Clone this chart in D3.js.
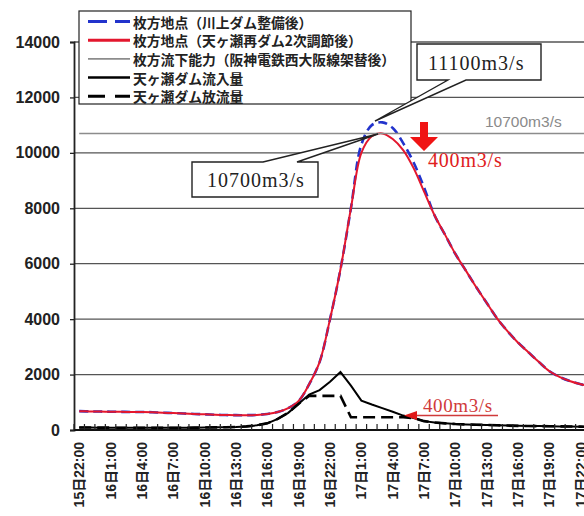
<!DOCTYPE html>
<html><head><meta charset="utf-8">
<script src="https://cdn.jsdelivr.net/npm/d3@7"></script>
<style>body{margin:0;background:#fff;overflow:hidden;} svg{display:block;}</style>
</head><body><svg id="c" width="584" height="516"></svg>
<script>
const categories = ["15日22:00","15日23:00",
 "16日0:00","16日1:00","16日2:00","16日3:00","16日4:00","16日5:00","16日6:00","16日7:00","16日8:00","16日9:00","16日10:00","16日11:00",
 "16日12:00","16日13:00","16日14:00","16日15:00","16日16:00","16日17:00","16日18:00","16日19:00","16日20:00","16日21:00","16日22:00","16日23:00",
 "17日0:00","17日1:00","17日2:00","17日3:00","17日4:00","17日5:00","17日6:00","17日7:00","17日8:00","17日9:00","17日10:00","17日11:00",
 "17日12:00","17日13:00","17日14:00","17日15:00","17日16:00","17日17:00","17日18:00","17日19:00","17日20:00","17日21:00","17日22:00","17日23:00",
 "18日0:00"];
const tickLabels = ["15日22:00","16日1:00","16日4:00","16日7:00","16日10:00","16日13:00","16日16:00","16日19:00",
 "16日22:00","17日1:00","17日4:00","17日7:00","17日10:00","17日13:00","17日16:00","17日19:00","17日22:00"];
const yTicks = [0,2000,4000,6000,8000,10000,12000,14000];

// 枚方地点(川上ダム整備後)
const hirakataKawakami = [680,670,665,660,655,650,650,640,625,610,595,
 580,565,550,540,535,535,545,580,650,790,1050,
 1650,2450,4000,5800,8000,10300,11000,11100,10900,10350,9650,
 8750,7750,7050,6350,5750,5150,4580,4020,3560,3150,2800,
 2450,2120,1910,1760,1650,1560,1480];
// 枚方地点(天ヶ瀬再ダム2次調節後)
const hirakataAmagase = [680,670,665,660,655,650,650,640,625,610,595,
 580,565,550,540,535,535,545,580,650,790,1050,
 1650,2450,4000,5800,8000,10000,10600,10700,10500,10100,9450,
 8600,7750,7050,6350,5750,5150,4580,4020,3560,3150,2800,
 2450,2120,1910,1760,1650,1560,1480];
// 枚方流下能力
const capacity = 10700;
// 天ヶ瀬ダム流入量
const damInflow = [90,90,85,85,80,80,80,80,80,80,80,
 85,90,95,100,110,130,170,240,400,620,950,
 1280,1440,1740,2090,1600,1060,920,790,660,520,430,
 320,270,240,215,200,190,180,170,160,150,145,
 140,135,130,125,120,115,110];
// 天ヶ瀬ダム放流量
const damRelease = [90,90,85,85,80,80,80,80,80,80,80,
 85,90,95,100,110,130,170,240,400,620,950,
 1230,1230,1230,1230,460,460,460,460,460,460,430,
 320,270,240,215,200,190,180,170,160,150,145,
 140,135,130,125,120,115,110];

const legendLabels = ["枚方地点（川上ダム整備後）","枚方地点（天ヶ瀬再ダム2次調節後）","枚方流下能力（阪神電鉄西大阪線架替後）","天ヶ瀬ダム流入量","天ヶ瀬ダム放流量"];

const svg = d3.select("#c");
const x0 = 74, step = 10.45;
const x = d3.scaleBand().domain(categories).range([x0, x0 + step*categories.length]).paddingInner(0).paddingOuter(0);
const y = d3.scaleLinear().domain([0,14000]).range([430,42]);
const cx = c => x(c) + x.bandwidth()/2;

// gridlines
svg.append("g").selectAll("line").data(yTicks.filter(d=>d>0)).join("line")
 .attr("x1", x0).attr("x2", 600).attr("y1", d=>y(d)).attr("y2", d=>y(d))
 .attr("stroke","#555").attr("stroke-width",1.3);

// y axis
const yAxis = svg.append("g").attr("transform",`translate(${x0},0)`)
 .call(d3.axisLeft(y).tickValues(yTicks).tickSize(4).tickPadding(10).tickFormat(d3.format("d")));
yAxis.select(".domain").attr("stroke","#222").attr("stroke-width",1.8);
yAxis.selectAll(".tick line").attr("stroke","#222").attr("stroke-width",1.3);
yAxis.selectAll("text").attr("font-family","'Liberation Sans',Arial,sans-serif").attr("font-size",16).attr("font-weight","bold").attr("fill","#222");

// series
const smooth = d3.line().x((d,i)=>cx(categories[i])).y(d=>y(d)).curve(d3.curveCatmullRom.alpha(0.5));
const straight = d3.line().x((d,i)=>cx(categories[i])).y(d=>y(d));
const g = svg.append("g");
g.append("path").attr("d", smooth(hirakataKawakami)).attr("fill","none").attr("stroke","#2233cc").attr("stroke-width",2.6).attr("stroke-dasharray","9,5");
g.append("path").attr("d", smooth(hirakataAmagase)).attr("fill","none").attr("stroke","#e3172e").attr("stroke-width",2);
g.append("line").attr("x1", cx(categories[0])).attr("x2", cx(categories[categories.length-1]))
 .attr("y1", y(capacity)).attr("y2", y(capacity)).attr("stroke","#8c8c8c").attr("stroke-width",1.6);
g.append("path").attr("d", straight(damInflow)).attr("fill","none").attr("stroke","#000").attr("stroke-width",2);
g.append("path").attr("d", straight(damRelease)).attr("fill","none").attr("stroke","#000").attr("stroke-width",2.6).attr("stroke-dasharray","12,6");

// x axis
const xg = svg.append("g");
xg.append("line").attr("x1",x0).attr("x2",600).attr("y1",430).attr("y2",430).attr("stroke","#111").attr("stroke-width",2.2);
xg.selectAll("line.t").data(categories).join("line").attr("class","t")
 .attr("x1", d=>x(d)).attr("x2", d=>x(d)).attr("y1",430).attr("y2",424).attr("stroke","#222").attr("stroke-width",1.2);
xg.selectAll("text").data(tickLabels).join("text")
 .attr("transform", d=>`translate(${cx(d)},442) rotate(-90)`)
 .attr("text-anchor","end").attr("dominant-baseline","central")
 .attr("font-family","'Liberation Sans','Noto Sans CJK JP',sans-serif").attr("font-size",14).attr("font-weight","bold").attr("fill","#222")
 .text(d=>d);

// legend
const lg = svg.append("g");
lg.append("rect").attr("x",79).attr("y",11).attr("width",332).attr("height",93).attr("fill","#fff").attr("stroke","#222").attr("stroke-width",1.2);
const lstyles = [
 {c:"#2233cc", w:3, d:"19,8"},
 {c:"#e3172e", w:3, d:null},
 {c:"#8c8c8c", w:1.6, d:null},
 {c:"#000", w:2.5, d:null},
 {c:"#000", w:3, d:"17,10"}];
legendLabels.forEach((t,i)=>{
 const yy = 21.5 + 18.7*i;
 const s = lstyles[i];
 lg.append("line").attr("x1",88).attr("x2",130).attr("y1",yy).attr("y2",yy).attr("stroke",s.c).attr("stroke-width",s.w).attr("stroke-dasharray",s.d);
 lg.append("text").attr("x",133).attr("y",yy).attr("dominant-baseline","central")
  .attr("font-family","'Noto Sans CJK JP',sans-serif").attr("font-size",13.8).attr("font-weight","bold").attr("fill","#222").text(t);
});

// annotations
const ann = svg.append("g");
ann.append("path").attr("d","M417,44 H541 V80 H466 L375,121 L448,80 H417 Z").attr("fill","#fff").attr("stroke","#222").attr("stroke-width",1.4);
ann.append("path").attr("d","M192,162 H263 L378,134 L297,162 H318 V197 H192 Z").attr("fill","#fff").attr("stroke","#222").attr("stroke-width",1.4);
ann.append("text").attr("x",428).attr("y",70).attr("font-family","'Liberation Serif',serif").attr("font-size",20).attr("letter-spacing",1).attr("fill","#222").text("11100m3/s");
ann.append("text").attr("x",207).attr("y",187).attr("font-family","'Liberation Serif',serif").attr("font-size",20).attr("letter-spacing",1).attr("fill","#222").text("10700m3/s");
ann.append("text").attr("x",485).attr("y",127).attr("font-family","'Liberation Sans',sans-serif").attr("font-size",15.5).attr("fill","#8a8a8a").text("10700m3/s");
ann.append("path").attr("d","M420,122 H428 V137 H438 L424,151 L410,137 H420 Z").attr("fill","#f01414");
ann.append("text").attr("x",428).attr("y",167).attr("font-family","'Liberation Serif',serif").attr("font-size",20).attr("letter-spacing",0.8).attr("fill","#e02020").text("400m3/s");
ann.append("text").attr("x",423).attr("y",412).attr("font-family","'Liberation Serif',serif").attr("font-size",19).attr("letter-spacing",0.6).attr("fill","#d03a3a").text("400m3/s");
ann.append("line").attr("x1",412).attr("x2",498).attr("y1",415.5).attr("y2",415.5).attr("stroke","#d03a3a").attr("stroke-width",1.4);
ann.append("path").attr("d","M404,415.5 L417,411 L417,420 Z").attr("fill","#e01a1a");
</script></body></html>
